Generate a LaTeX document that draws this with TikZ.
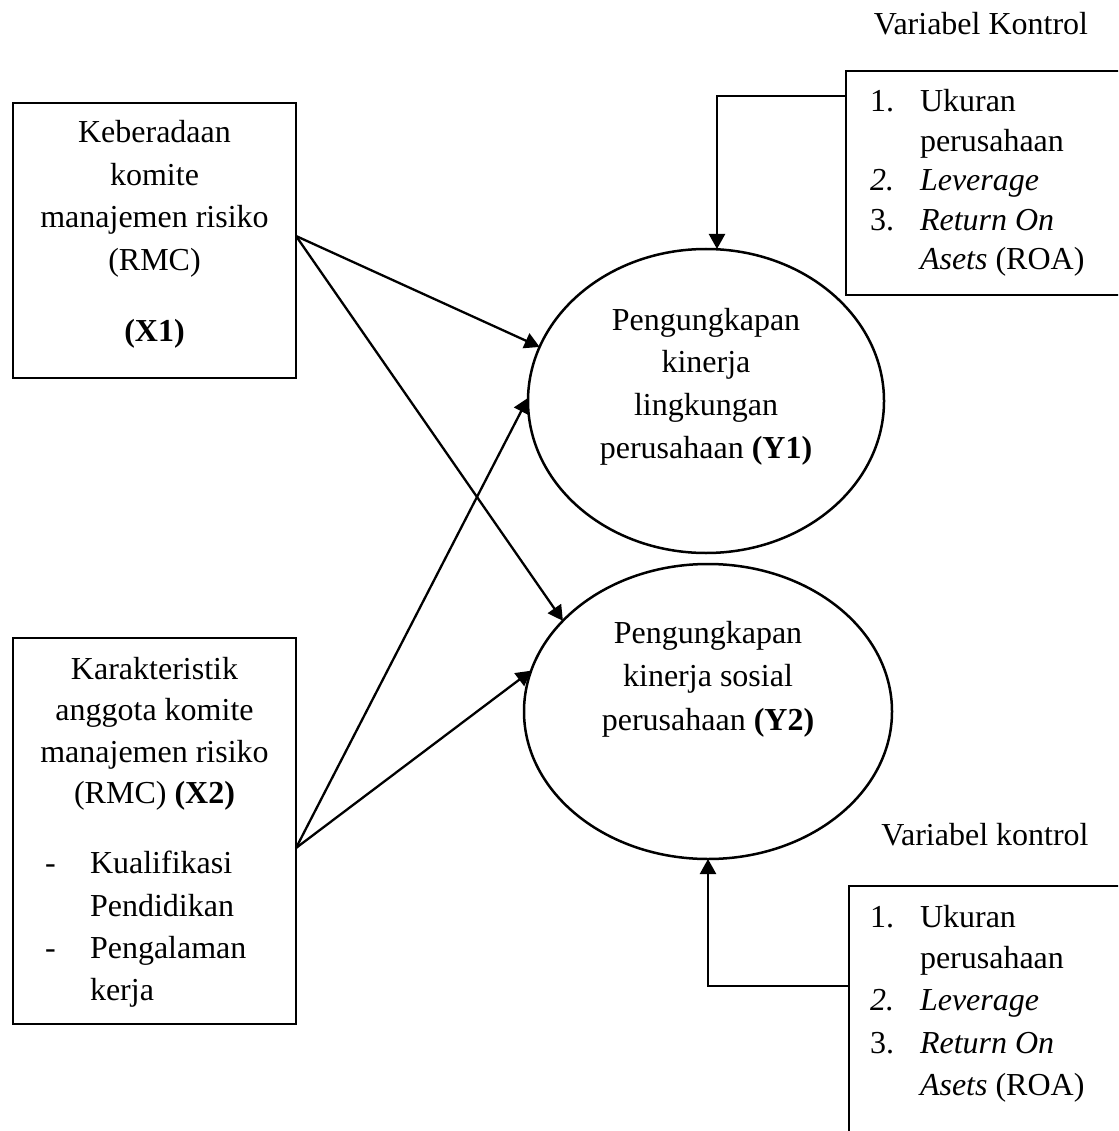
\documentclass[tikz,border=0pt]{standalone}
\usepackage{fontspec}
\setmainfont{Liberation Serif}
\usetikzlibrary{arrows.meta,shapes.geometric}
\begin{document}
\begin{tikzpicture}[x=1pt,y=-1pt,
  every node/.style={inner sep=0pt, outer sep=0pt},
  boxnode/.style={draw, line width=2.5pt, rectangle},
  ovalnode/.style={draw, line width=2.5pt, ellipse},
  tx/.style={font=\fontsize{32}{42}\selectfont, anchor=base},
  txl/.style={font=\fontsize{32}{42}\selectfont, anchor=base west},
  arr/.style={line width=2.3pt, -{Triangle[length=15pt,width=16pt]}}]
\useasboundingbox (0,0) rectangle (1118,1131);
\clip (0,0) rectangle (1118,1131);

% main shapes
\node[boxnode, minimum width=283pt, minimum height=275pt] (X1) at (154.5,240.5) {};
\node[boxnode, minimum width=283pt, minimum height=386pt] (X2) at (154.5,831) {};
\node[ovalnode, minimum width=356pt, minimum height=304pt] (Y1) at (706,401) {};
\node[ovalnode, minimum width=368pt, minimum height=295pt] (Y2) at (708,711.5) {};
\node[boxnode, minimum width=300pt, minimum height=224pt] (K1) at (996,183) {};
\node[boxnode, minimum width=300pt, minimum height=280pt] (K2) at (999,1026) {};

% X1 text
\node[tx] (x1a) at (154.5,143) {Keberadaan};
\node[tx] (x1b) at (154.5,185.5) {komite};
\node[tx] (x1c) at (154.5,228) {manajemen risiko};
\node[tx] (x1d) at (154.5,270.5) {(RMC)};
\node[tx] (x1e) at (154.5,341) {\textbf{(X1)}};

% X2 text
\node[tx] (x2a) at (154.5,679) {Karakteristik};
\node[tx] (x2b) at (154.5,720.5) {anggota komite};
\node[tx] (x2c) at (154.5,762) {manajemen risiko};
\node[tx] (x2d) at (154.5,803.5) {(RMC) \textbf{(X2)}};
\node[txl] (x2e) at (45,873.5) {-};
\node[txl] (x2f) at (90,873.5) {Kualifikasi};
\node[txl] (x2g) at (90,916) {Pendidikan};
\node[txl] (x2h) at (45,958.5) {-};
\node[txl] (x2i) at (90,958.5) {Pengalaman};
\node[txl] (x2j) at (90,1000) {kerja};

% Y1 text
\node[tx] (y1a) at (706,330) {Pengungkapan};
\node[tx] (y1b) at (706,372.5) {kinerja};
\node[tx] (y1c) at (706,415) {lingkungan};
\node[tx] (y1d) at (706,458) {perusahaan \textbf{(Y1)}};

% Y2 text
\node[tx] (y2a) at (708,643) {Pengungkapan};
\node[tx] (y2b) at (708,686.5) {kinerja sosial};
\node[tx] (y2c) at (708,730) {perusahaan \textbf{(Y2)}};

% control variables (top)
\node[tx] (k1t) at (981,35) {Variabel Kontrol};
\node[txl] (k1n1) at (870,112) {1.};
\node[txl] (k1a) at (920,112) {Ukuran};
\node[txl] (k1b) at (920,151.5) {perusahaan};
\node[txl] (k1n2) at (870,191) {\textit{2.}};
\node[txl] (k1c) at (920,191) {\textit{Leverage}};
\node[txl] (k1n3) at (870,230.5) {3.};
\node[txl] (k1d) at (920,230.5) {\textit{Return On}};
\node[txl] (k1e) at (920,270) {\textit{Asets} (ROA)};

% control variables (bottom)
\node[tx] (k2t) at (985,845) {Variabel kontrol};
\node[txl] (k2n1) at (870,927) {1.};
\node[txl] (k2a) at (920,927) {Ukuran};
\node[txl] (k2b) at (920,968.5) {perusahaan};
\node[txl] (k2n2) at (870,1010) {\textit{2.}};
\node[txl] (k2c) at (920,1010) {\textit{Leverage}};
\node[txl] (k2n3) at (870,1053) {3.};
\node[txl] (k2d) at (920,1053) {\textit{Return On}};
\node[txl] (k2e) at (920,1095) {\textit{Asets} (ROA)};

% connector anchors
\coordinate (x1out) at ([yshift=4.5pt]X1.east);
\coordinate (x2out) at ([yshift=-17pt]X2.east);
\coordinate (k1in) at ([yshift=87pt]K1.west);
\coordinate (k2in) at ([yshift=40pt]K2.west);

% connectors
\draw[arr] (x1out) -- (Y1.162);
\draw[arr] (x1out) -- (Y2.148);
\draw[arr] (x2out) -- (Y1.179);
\draw[arr] (x2out) -- (Y2.167);
\draw[arr] (k1in) -| ([xshift=11pt]Y1.north);
\draw[arr] (k2in) -| (Y2.south);
\end{tikzpicture}
\end{document}
